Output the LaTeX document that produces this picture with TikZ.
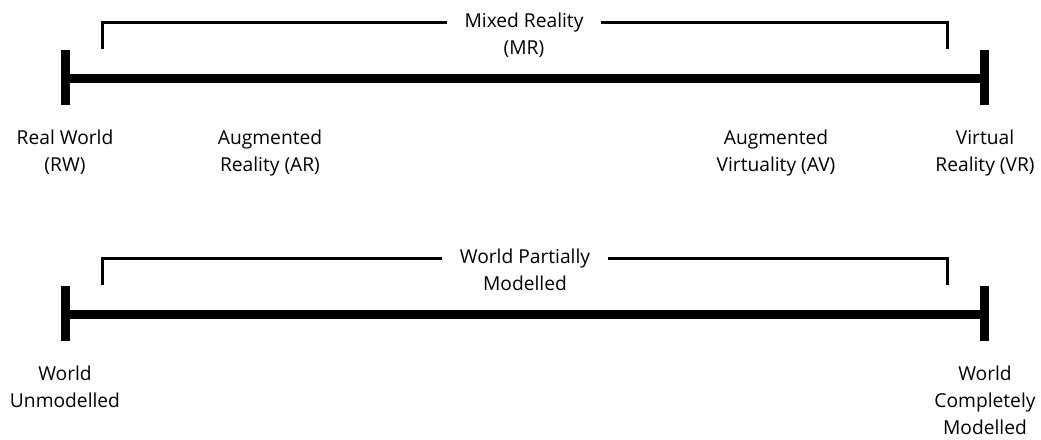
\documentclass[tikz,border=0pt]{standalone}
\usepackage{fontspec}
\setmainfont{Open Sans}
\begin{document}
\begin{tikzpicture}[x=1pt,y=-1pt,
  axisline/.style={line width=9pt},
  endbar/.style={line width=9pt},
  bracketline/.style={line width=2.8pt},
  lbl/.style={align=center,inner sep=0pt,anchor=base,font=\fontsize{19.2}{27}\selectfont},
  brlbl/.style={lbl,fill=white,inner xsep=18pt}]
\useasboundingbox (0,0) rectangle (1041,439);
% ---------- top scale ----------
\coordinate (tl) at (65.5,78);
\coordinate (tr) at (984.5,78);
\coordinate (tlt) at (65.5,50); \coordinate (tlb) at (65.5,105);
\coordinate (trt) at (984.5,50); \coordinate (trb) at (984.5,105);
\draw[axisline] (tl) -- (tr);
\draw[endbar] (tlt) -- (tlb);
\draw[endbar] (trt) -- (trb);
\coordinate (bl1) at (102.5,49);
\coordinate (br1) at (947.5,49);
\draw[bracketline] (bl1) |- (524,22.5) -| (br1);
\node[brlbl] (mr) at (524,54) {Mixed Reality\\(MR)};
\node[lbl] (rw) at (65,171) {Real World\\(RW)};
\node[lbl] (ar) at (270,171) {Augmented\\Reality (AR)};
\node[lbl] (av) at (776,171) {Augmented\\Virtuality (AV)};
\node[lbl] (vr) at (985,171) {Virtual\\Reality (VR)};
% ---------- bottom scale ----------
\coordinate (bl) at (65.5,314);
\coordinate (br) at (984.5,314);
\coordinate (blt) at (65.5,286); \coordinate (blb) at (65.5,341);
\coordinate (brt) at (984.5,286); \coordinate (brb) at (984.5,341);
\draw[axisline] (bl) -- (br);
\draw[endbar] (blt) -- (blb);
\draw[endbar] (brt) -- (brb);
\coordinate (bl2) at (102.5,285);
\coordinate (br2) at (947.5,285);
\draw[bracketline] (bl2) |- (524,258.5) -| (br2);
\node[brlbl] (wpm) at (525,290) {World Partially\\Modelled};
\node[lbl] (wu) at (65,407) {World\\Unmodelled};
\node[lbl] (wcm) at (985,434) {World\\Completely\\Modelled};
\end{tikzpicture}
\end{document}
